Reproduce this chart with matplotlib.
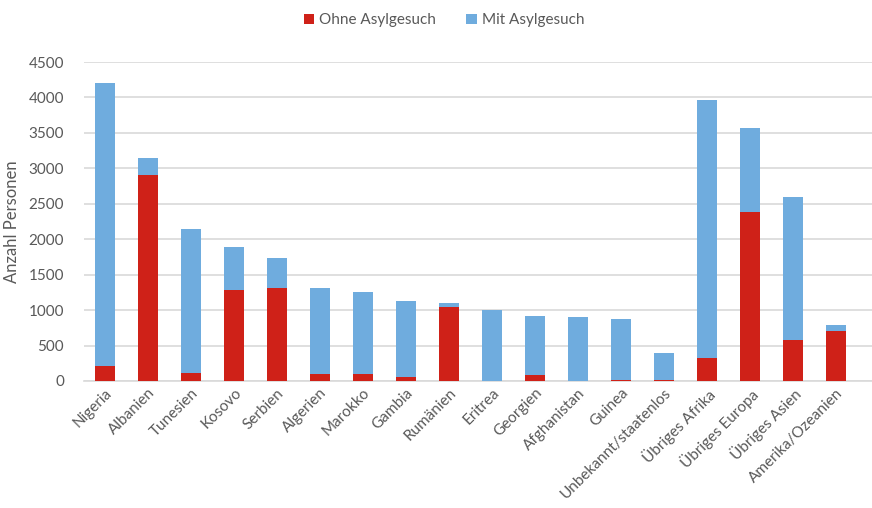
import matplotlib.pyplot as plt
import numpy as np

laender = ["Nigeria", "Albanien", "Tunesien", "Kosovo", "Serbien", "Algerien",
           "Marokko", "Gambia", "Rumänien", "Eritrea", "Georgien", "Afghanistan",
           "Guinea", "Unbekannt/staatenlos", "Übriges Afrika", "Übriges Europa",
           "Übriges Asien", "Amerika/Ozeanien"]
ohne_asyl = [210, 2910, 110, 1290, 1310, 100, 100, 50, 1050, 0, 80, 0,
             20, 20, 325, 2390, 580, 710]
gesamt = [4200, 3150, 2150, 1890, 1730, 1310, 1260, 1130, 1100, 1000, 920, 900,
          870, 400, 3960, 3570, 2600, 785]
mit_asyl = [g - o for g, o in zip(gesamt, ohne_asyl)]

rot = '#CF2118'
blau = '#6FACDE'
grau = '#595959'

plt.rcParams['font.family'] = ['Lato', 'DejaVu Sans']

fig = plt.figure(figsize=(8.72, 5.08), dpi=100)
ax = fig.add_axes([83.6 / 872, 127 / 508, (872 - 83.6) / 872, 319 / 508])

x = np.arange(len(laender))
b1 = ax.bar(x, ohne_asyl, 0.45, color=rot, label="Ohne Asylgesuch", zorder=3)
b2 = ax.bar(x, mit_asyl, 0.45, bottom=ohne_asyl, color=blau,
            label="Mit Asylgesuch", zorder=3)

ax.set_xlim(-0.5, 17.84)
ax.set_ylim(0, 4500)
ax.set_yticks(np.arange(0, 4501, 500))
ax.yaxis.grid(True, color='#D9D9D9', linewidth=1.2, zorder=0)
ax.set_axisbelow(True)
for sp in ['top', 'right', 'left']:
    ax.spines[sp].set_visible(False)
ax.spines['bottom'].set_color('#D9D9D9')
ax.spines['bottom'].set_linewidth(1.2)
ax.tick_params(axis='both', length=0, colors=grau, labelsize=11)
ax.tick_params(axis='y', pad=14)
ax.set_xticks(x)
ax.set_xticklabels(laender, rotation=45, ha='right', rotation_mode='anchor')
ax.set_ylabel("Anzahl Personen", color=grau, fontsize=12, labelpad=6)

fig.legend(handles=[b1, b2], loc='center', bbox_to_anchor=(0.509, 0.96), ncol=2,
           frameon=False, fontsize=11, handlelength=0.7, handleheight=0.7,
           handletextpad=0.3, columnspacing=2.0, labelcolor=grau)

fig.savefig("out.png", dpi=100)
